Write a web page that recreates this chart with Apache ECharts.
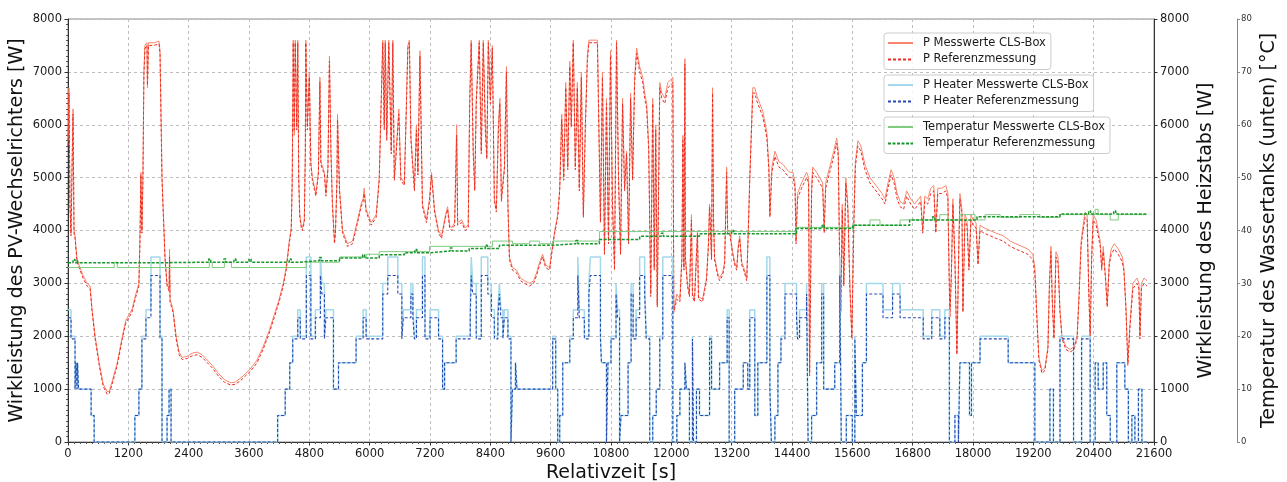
<!DOCTYPE html>
<html><head><meta charset="utf-8">
<script src="https://cdn.jsdelivr.net/npm/echarts@6/dist/echarts.min.js"></script>
<style>html,body{margin:0;padding:0;background:#fff}#c{width:1287px;height:482px}</style>
</head><body><div id="c"></div>
<script>
// ---- P (PV inverter active power) [W] ----
const pTime = [
0,20,40,60,80,100,120,140,180,240,
300,380,440,480,540,620,700,780,820,880,
980,1080,1150,1270,1350,1410,1430,1450,1470,1490,
1510,1530,1570,1580,1600,1710,1810,1830,1870,1930,
1970,2010,2020,2030,2090,2150,2210,2270,2370,2470,
2570,2670,2770,2870,2990,3110,3230,3320,3420,3520,
3640,3760,3880,4000,4100,4200,4280,4340,4400,4440,
4460,4480,4500,4520,4550,4570,4590,4610,4640,4660,
4700,4720,4730,4760,4800,4830,4860,4930,4980,5010,
5030,5100,5130,5170,5200,5230,5260,5300,5320,5350,
5360,5400,5460,5560,5660,5760,5830,5870,5890,5930,
6030,6130,6190,6260,6290,6310,6340,6380,6430,6460,
6490,6520,6580,6620,6690,6760,6790,6820,6890,6930,
6960,7000,7050,7130,7190,7230,7290,7370,7430,7510,
7550,7590,7630,7690,7730,7750,7830,7900,7960,7990,
8020,8060,8090,8120,8180,8220,8260,8300,8330,8360,
8400,8440,8480,8520,8560,8590,8620,8680,8720,8750,
8780,8840,8920,9000,9080,9180,9260,9320,9380,9440,
9500,9580,9620,9680,9740,9780,9820,9860,9900,9940,
9980,10010,10050,10090,10130,10170,10210,10250,10290,10330,
10360,10530,10550,10590,10630,10670,10710,10750,10790,10830,
10870,10910,10950,10990,11030,11070,11110,11150,11190,11230,
11270,11310,11370,11430,11470,11510,11550,11590,11630,11660,
11690,11720,11770,11810,11870,11930,11990,12030,12050,12110,
12170,12210,12230,12250,12270,12280,12320,12360,12400,12420,
12460,12520,12540,12620,12700,12740,12760,12800,12820,12840,
12860,12920,12960,13020,13060,13100,13120,13160,13220,13260,
13300,13330,13360,13400,13440,13500,13530,13560,13620,13660,
13700,13760,13820,13860,13900,13940,13960,14000,14060,14140,
14220,14300,14360,14420,14460,14480,14510,14590,14690,14730,
14750,14790,14810,14890,14950,15010,15040,15070,15150,15230,
15290,15320,15350,15370,15400,15430,15470,15510,15550,15590,
15630,15660,15710,15770,15850,15950,16030,16110,16190,16250,
16310,16370,16430,16490,16550,16620,16680,16760,16840,16920,
16960,17000,17040,17100,17160,17220,17260,17300,17380,17460,
17500,17520,17540,17570,17600,17640,17680,17720,17740,17780,
17800,17840,17880,17920,17960,18000,18060,18100,18140,18220,
18340,18460,18600,18740,18850,18970,19090,19190,19230,19270,
19310,19370,19430,19490,19520,19550,19580,19610,19650,19690,
19730,19770,19850,19930,20010,20070,20110,20150,20190,20230,
20270,20300,20330,20360,20390,20450,20490,20530,20560,20590,
20630,20670,20710,20750,20810,20890,20970,21000,21040,21080,
21120,21180,21220,21260,21300,21320,21350,21400,21460
];
const pCls = [
5700,6700,4500,3950,5200,6300,4000,3900,3450,3300,
3150,3000,2950,2500,2000,1500,1100,950,960,1150,
1500,2000,2300,2500,2800,3000,3800,5100,4000,5000,
7000,7500,7550,6700,7550,7550,7580,7400,5000,3500,
3000,2900,3650,2700,2500,2000,1700,1600,1620,1680,
1700,1650,1550,1450,1300,1180,1120,1130,1200,1280,
1400,1550,1800,2100,2400,2700,3000,3300,3800,4050,
5000,7600,5800,7600,6000,7600,5000,4300,4100,4050,
4200,5500,7600,6000,7000,5300,5000,4700,5100,6900,
5300,5100,4700,5200,7300,5500,4500,3800,4000,5000,
6200,4800,4000,3750,3800,4200,4500,4600,4800,4400,
4150,4300,5000,7600,6000,7600,5800,7600,5500,7600,
5000,5400,6300,5000,4900,7500,7600,5800,4800,6000,
5100,7400,4500,4200,4600,5100,4400,4000,3900,4300,
4450,4100,4050,4150,6000,4150,4200,4050,4100,6500,
7600,5500,4800,6500,7600,5500,7600,6000,5400,7600,
6500,7500,4600,4400,6000,6500,4600,5200,7100,4500,
3500,3300,3250,3100,3050,3000,3050,3200,3400,3550,
3350,3300,3600,4000,4300,4800,6200,5000,6800,5200,
7200,6000,7600,5200,6800,4800,7000,4300,6000,7300,
7600,7600,6500,4200,7000,3600,6500,3800,7400,4500,
3300,7600,5000,3600,6500,4800,5500,3800,6600,5000,
6900,7450,7100,6900,6600,6400,5600,2800,6500,3300,
6000,2600,6800,6600,6500,6800,6850,6900,2500,2800,
2700,3500,5800,3300,7250,3500,3000,2800,4300,2800,
2700,4000,2750,2700,3100,3800,4500,3500,6700,4200,
3500,3200,3100,3200,3400,5200,4000,4000,3600,3400,
3300,3700,3900,3400,3300,3100,4000,5000,6700,6700,
6550,6400,6250,6050,5850,5200,4300,5200,5500,5300,
5250,5150,5100,5100,4900,3800,4700,4900,5100,5000,
1300,4800,5200,5100,5000,4900,4000,4900,5200,5500,
5750,5500,3300,2500,4500,3000,5000,4500,3000,2000,
4200,5300,5700,5600,5250,5000,4900,4800,4700,4600,
4900,5150,5000,4700,4550,4500,4750,4600,4500,4600,
4650,4000,4650,4600,4800,4850,4000,4800,4800,4850,
4700,3500,2400,3200,4600,3500,1700,3800,4700,4400,
2500,4300,4200,3300,4300,4200,4150,3400,4100,4050,
4000,3950,3900,3800,3750,3700,3650,3550,3300,2400,
1600,1350,1400,1800,3000,3700,2600,2000,3600,3500,
2500,2000,1800,1750,1800,2000,2800,3800,4100,4350,
4300,3000,2000,3500,4300,4200,4000,3800,3300,3700,
3200,2600,3400,3650,3750,3650,3500,3300,2600,1500,
2200,3000,3050,3100,3000,2000,3000,3100,3050
];
const pRef = [
5600,6600,4400,3900,5100,6200,3950,3850,3400,3250,
3100,2950,2900,2450,1950,1450,1050,900,920,1100,
1450,1950,2250,2450,2750,2950,3750,5050,3950,4950,
6950,7450,7500,6750,7500,7500,7530,7350,4950,3450,
2950,2850,3500,2650,2450,1950,1650,1560,1580,1630,
1650,1600,1500,1400,1250,1130,1080,1090,1150,1240,
1350,1500,1750,2050,2350,2650,2950,3250,3750,4000,
4950,7550,5900,7550,5900,7550,4900,4250,4050,4000,
4150,5400,7550,5900,6900,5250,4950,4650,5050,6800,
5250,5050,4650,5150,7200,5450,4450,3750,3950,4950,
6100,4750,3950,3700,3750,4150,4450,4550,4700,4350,
4100,4250,4950,7550,5900,7550,5700,7550,5450,7550,
4950,5350,6200,4950,4850,7450,7550,5700,4750,5900,
5050,7300,4450,4150,4550,5050,4350,3950,3850,4250,
4400,4050,4000,4100,5800,4100,4150,4000,4050,6400,
7550,5450,4750,6400,7550,5450,7550,5900,5350,7550,
6400,7450,4550,4350,5900,6400,4550,5150,7000,4450,
3450,3250,3200,3050,3000,2950,3000,3150,3350,3500,
3300,3250,3550,3950,4250,4750,6100,4950,6700,5150,
7100,5950,7550,5150,6700,4750,6900,4250,5950,7200,
7550,7550,6400,4150,6900,3550,6400,3750,7300,4450,
3250,7550,4950,3550,6400,4750,5450,3750,6500,4950,
6800,7350,7000,6800,6500,6300,5500,2750,6400,3250,
5900,2550,6700,6500,6400,6700,6750,6800,2450,2700,
2650,3450,5700,3250,7150,3450,2950,2750,4200,2750,
2650,3950,2700,2650,3050,3750,4450,3450,6600,4150,
3450,3150,3050,3150,3350,5100,3950,3950,3550,3350,
3250,3650,3850,3350,3250,3050,3950,4950,6600,6600,
6450,6300,6150,5950,5750,5150,4250,5100,5400,5200,
5150,5050,5000,5000,4800,3750,4600,4800,5000,4900,
1250,4700,5100,5000,4900,4800,3950,4800,5100,5400,
5650,5400,3250,2450,4400,2950,4900,4400,2950,1950,
4100,5200,5600,5500,5150,4900,4800,4700,4600,4500,
4800,5050,4900,4600,4450,4400,4650,4500,4400,4500,
4550,3950,4550,4500,4700,4750,3950,4700,4700,4750,
4600,3450,2350,3150,4500,3450,1650,3750,4600,4300,
2450,4200,4100,3250,4200,4100,4050,3350,4000,3950,
3900,3850,3800,3700,3650,3600,3550,3450,3200,2350,
1550,1300,1350,1750,2950,3600,2550,1950,3500,3400,
2450,1950,1750,1700,1750,1950,2750,3700,4000,4250,
4200,2950,1950,3450,4200,4100,3900,3700,3250,3600,
3150,2550,3350,3550,3650,3550,3400,3250,2550,1450,
2150,2900,2950,3000,2900,1950,2900,3000,2950
];
// ---- Heater power [W] (step values, each holds until next time) ----
const hTime = [
0,60,140,160,180,190,210,460,520,1330,
1410,1470,1550,1650,1830,1870,1970,2010,2050,4170,
4320,4410,4470,4570,4620,4740,4830,4920,5020,5050,
5100,5130,5280,5380,5730,5870,5930,6260,6360,6560,
6640,6670,6820,6860,6890,6930,7050,7100,7200,7370,
7450,7490,7720,8000,8020,8050,8120,8220,8350,8420,
8480,8550,8580,8610,8650,8680,8750,8810,8840,8900,
8930,9640,9700,9740,9780,9840,9980,10050,10140,10170,
10270,10360,10390,10590,10610,10710,10740,10800,10900,10930,
10970,11000,11140,11200,11240,11300,11370,11470,11500,11570,
11630,11700,11770,11830,12030,12110,12170,12270,12300,12360,
12420,12440,12500,12560,12760,12800,12960,13110,13150,13260,
13430,13520,13560,13660,13720,13900,13960,13990,14060,14120,
14180,14260,14490,14510,14550,14690,14720,14790,14890,14990,
15030,15250,15350,15380,15480,15600,15650,15680,15800,15880,
16210,16400,16550,17010,17180,17340,17440,17530,17640,17710,
17740,17930,17970,18140,18700,19230,19530,19600,19730,20000,
20160,20330,20430,20490,20590,20660,20730,20860,21020,21090,
21160,21220,21290,21360,21460
];
const hRef = [
2350,1950,1000,1500,1000,1500,1000,500,0,500,
1000,1950,2350,3150,1950,0,500,1000,0,500,
1000,1500,1950,2350,1950,3150,1950,2350,3150,2800,
1950,2350,1000,1500,1950,2350,1950,2800,3150,2800,
1950,2350,2800,2350,1950,2350,3150,1950,2350,1950,
1000,1500,1950,2350,3150,2800,1950,3150,2800,2350,
1950,2350,2800,2350,1950,2350,1950,0,1000,1500,
1000,1950,1000,0,500,1500,1950,2350,3150,2350,
1950,2800,3150,1950,1500,0,1500,1950,2800,2350,
0,500,1500,2800,1950,2350,3150,2800,1950,0,
500,1000,1950,3150,0,500,1000,1500,1000,0,
1950,0,1000,500,1950,1000,1500,2350,0,1000,
1500,1000,2350,500,1500,3150,1000,0,500,1500,
1950,2800,2350,1950,2350,2800,0,500,1500,2800,
1000,1500,3150,0,500,0,1950,500,1500,2800,
2350,2800,2350,1950,2350,1950,2350,0,500,0,
1500,500,1500,1950,1500,0,1000,0,1950,0,
1950,0,1500,1000,1500,500,0,1500,1000,0,
500,0,1000,0,0
];
const hCls = [
2500,2000,1000,1500,1000,1500,1000,500,0,500,
1000,2000,2500,3500,2000,0,500,1000,0,500,
1000,1500,2000,2500,2000,3500,2000,2500,3500,3000,
2000,2500,1000,1500,2000,2500,2000,3000,3500,3000,
2000,2500,3000,2500,2000,2500,3500,2000,2500,2000,
1000,1500,2000,2500,3500,3000,2000,3500,3000,2500,
2000,2500,3000,2500,2000,2500,2000,0,1000,1500,
1000,2000,1000,0,500,1500,2000,2500,3500,2500,
2000,3000,3500,2000,1500,0,1500,2000,3000,2500,
0,500,1500,3000,2000,2500,3500,3000,2000,0,
500,1000,2000,3500,0,500,1000,1500,1000,0,
2000,0,1000,500,2000,1000,1500,2500,0,1000,
1500,1000,2500,500,1500,3500,1000,0,500,1500,
2000,3000,2500,2000,2500,3000,0,500,1500,3000,
1000,1500,3500,0,500,0,2000,500,1500,3000,
2500,3000,2500,2000,2500,2000,2500,0,500,0,
1500,500,1500,2000,1500,0,1000,0,2000,0,
2000,0,1500,1000,1500,500,0,1500,1000,0,
500,0,1000,0,0
];
// ---- Water tank temperature [°C] (step values) ----
const tempRef = [
[0,33.9],[100,34.5],[140,33.9],[180,34.4],[200,33.9],[1810,34.0],[2800,34.6],[2840,34.0],
[3100,34.6],[3140,34.0],[3300,34.6],[3340,34.0],[3600,34.6],[3640,34.0],[4400,34.6],[4440,34.0],
[4600,34.3],[5000,34.9],[5040,34.3],[5400,34.8],[5860,35.4],[5900,34.8],[6190,35.4],[6690,35.8],
[6900,36.4],[6940,35.8],[7190,36.1],[7600,36.7],[7640,36.1],[7980,36.6],[8300,37.2],[8340,36.6],
[8580,37.2],[9640,37.5],[10100,38.1],[10140,37.5],[10570,38.3],[11370,38.9],[11800,39.5],[11840,38.9],
[12560,39.4],[13200,40.0],[13240,39.4],[14490,40.4],[15000,41.0],[15040,40.4],[15610,41.0],[16740,42.0],
[17200,42.6],[17240,42.0],[18080,42.6],[19730,43.1],[20300,43.7],[20340,43.1],[20800,43.7],[20840,43.1],
[21460,43.1]
];
const tempCls = [
[0,33.0],[920,34.0],[980,33.0],[2810,34.0],[2870,33.0],[3110,34.0],[3250,33.0],[4740,34.0],
[5400,35.0],[5930,35.5],[6190,36.0],[7190,37.0],[8440,38.0],[8840,37.5],[9180,38.0],[9380,37.5],
[9640,38.0],[10570,39.8],[14490,40.6],[15610,41.0],[15950,42.0],[16150,41.0],[16550,42.0],[17340,43.0],
[17500,42.0],[17740,43.0],[18040,42.0],[18240,43.0],[18540,42.5],[18930,43.0],[19330,42.5],[19730,43.0],
[20430,44.0],[20490,43.0],[20730,42.0],[20890,43.0],[21460,43.0]
];

const names = ['P Messwerte CLS-Box','P Referenzmessung','P Heater Messwerte CLS-Box','P Heater Referenzmessung','Temperatur Messwerte CLS-Box','Temperatur Referenzmessung'];
const zip = (ts, vs) => ts.map((t, i) => [t, vs[i]]);
const FONT = 'DejaVu Sans';
const plain = v => String(v);

const legendBase = {
  orient: 'vertical', left: 884, itemWidth: 25, itemHeight: 14, itemGap: 2.5,
  padding: [3, 5, 3, 3], backgroundColor: 'rgba(255,255,255,0.85)',
  borderColor: '#cccccc', borderWidth: 1, borderRadius: 3, selectedMode: false,
  itemStyle: { opacity: 0 },
  textStyle: { fontFamily: FONT, fontSize: 11.5, color: '#1a1a1a', lineHeight: 14, padding: [0, 0, 0, 5] }
};

const chart = echarts.init(document.getElementById('c'), null, { renderer: 'canvas' });
chart.setOption({
  animation: false,
  textStyle: { fontFamily: FONT },
  grid: { left: 68, right: 133, top: 19, bottom: 40, containLabel: false, outerBoundsMode: 'none',
          show: true, borderColor: '#8a8a8a', borderWidth: 1 },
  legend: [
    Object.assign({}, legendBase, { top: 33, data: [names[0], names[1]] }),
    Object.assign({}, legendBase, { top: 75, data: [names[2], names[3]] }),
    Object.assign({}, legendBase, { top: 117, data: [names[4], names[5]] })
  ],
  xAxis: {
    type: 'value', min: 0, max: 21600, interval: 1200,
    name: 'Relativzeit [s]', nameLocation: 'middle', nameGap: 22, nameMoveOverlap: false,
    nameTextStyle: { fontFamily: FONT, fontSize: 19, color: '#111' },
    axisLine: { show: true, onZero: false, lineStyle: { color: '#333', width: 1 } },
    axisTick: { show: true, length: 3.5, lineStyle: { color: '#333' } },
    minorTick: { show: true, splitNumber: 10, length: 2, lineStyle: { color: '#555' } },
    axisLabel: { fontFamily: FONT, fontSize: 11.5, color: '#1a1a1a', margin: 6, formatter: plain },
    splitLine: { show: true, lineStyle: { type: [3, 3], color: '#bdbdbd', width: 1 } }
  },
  yAxis: [
    {
      type: 'value', min: 0, max: 8000, interval: 1000, position: 'left',
      name: 'Wirkleistung des PV-Wechselrichters [W]', nameLocation: 'middle', nameGap: 41, nameRotate: 90,
      nameMoveOverlap: false,
      nameTextStyle: { fontFamily: FONT, fontSize: 19, color: '#111' },
      axisLine: { show: true, lineStyle: { color: '#333', width: 1 } },
      axisTick: { show: true, length: 3.5, lineStyle: { color: '#333' } },
      minorTick: { show: true, splitNumber: 10, length: 2, lineStyle: { color: '#555' } },
      axisLabel: { fontFamily: FONT, fontSize: 11.5, color: '#1a1a1a', margin: 6, formatter: plain },
      splitLine: { show: true, lineStyle: { type: [3, 3], color: '#bdbdbd', width: 1 } }
    },
    {
      type: 'value', min: 0, max: 8000, interval: 1000, position: 'right',
      name: 'Wirkleistung des Heizstabs [W]', nameLocation: 'middle', nameGap: 43, nameRotate: 90,
      nameMoveOverlap: false,
      nameTextStyle: { fontFamily: FONT, fontSize: 19, color: '#111' },
      axisLine: { show: true, lineStyle: { color: '#333', width: 1 } },
      axisTick: { show: true, length: 3.5, lineStyle: { color: '#333' } },
      axisLabel: { fontFamily: FONT, fontSize: 11.5, color: '#1a1a1a', margin: 6, formatter: plain },
      splitLine: { show: false }
    },
    {
      type: 'value', min: 0, max: 80, interval: 10, position: 'right', offset: 83,
      name: 'Temperatur des Wassertanks (unten) [°C]', nameLocation: 'middle', nameGap: 23, nameRotate: 90,
      nameMoveOverlap: false,
      nameTextStyle: { fontFamily: FONT, fontSize: 19, color: '#111' },
      axisLine: { show: true, lineStyle: { color: '#888', width: 1 } },
      axisTick: { show: true, length: 3, lineStyle: { color: '#888' } },
      axisLabel: { fontFamily: FONT, fontSize: 8.5, color: '#333', margin: 4, formatter: plain },
      splitLine: { show: false }
    }
  ],
  series: [
    { name: names[0], type: 'line', yAxisIndex: 0, symbol: 'none', data: zip(pTime, pCls),
      lineStyle: { color: '#f7866d', width: 1 }, itemStyle: { color: '#f7866d' } },
    { name: names[1], type: 'line', yAxisIndex: 0, symbol: 'none', data: zip(pTime, pRef),
      lineStyle: { color: '#ee2a22', width: 1, type: [3, 2] }, itemStyle: { color: '#ee2a22' } },
    { name: names[2], type: 'line', yAxisIndex: 1, symbol: 'none', step: 'end', data: zip(hTime, hCls),
      lineStyle: { color: '#a3d8ea', width: 1.5 }, itemStyle: { color: '#a3d8ea' } },
    { name: names[3], type: 'line', yAxisIndex: 1, symbol: 'none', step: 'end', data: zip(hTime, hRef),
      lineStyle: { color: '#2847b5', width: 1.1, type: [3, 2] }, itemStyle: { color: '#2847b5' } },
    { name: names[4], type: 'line', yAxisIndex: 2, symbol: 'none', step: 'end', data: tempCls,
      lineStyle: { color: '#7fcc7f', width: 1 }, itemStyle: { color: '#7fcc7f' } },
    { name: names[5], type: 'line', yAxisIndex: 2, symbol: 'none', step: 'end', data: tempRef,
      lineStyle: { color: '#17962a', width: 1.5, type: [3, 1.5] }, itemStyle: { color: '#17962a' } }
  ]
});
</script>
</body></html>
